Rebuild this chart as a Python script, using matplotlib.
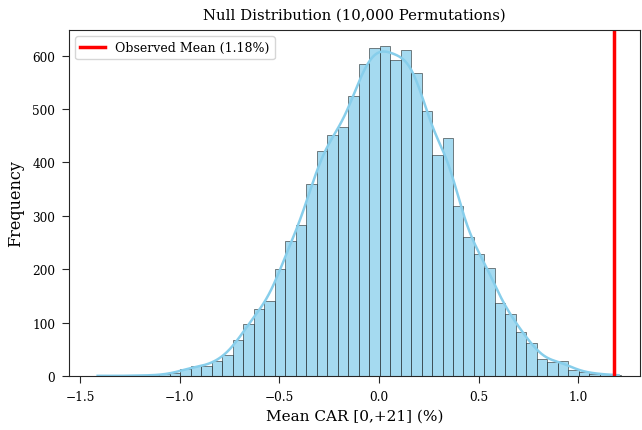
import numpy as np
import matplotlib
matplotlib.use("Agg")
import matplotlib.pyplot as plt

# ---- data (50 bins, counts per bin) ----
bin_lo = -1.4165
bin_hi = 1.2133
counts = [1, 0, 0, 1, 1, 1, 3, 5, 14, 18,
          18, 29, 39, 68, 97, 126, 140, 200, 253, 283,
          360, 421, 452, 466, 525, 584, 615, 618, 592, 610,
          568, 497, 414, 446, 319, 260, 228, 202, 136, 117,
          82, 61, 31, 27, 29, 11, 8, 4, 3, 2]
observed_mean = 1.18
x_ticks = [-1.5, -1.0, -0.5, 0.0, 0.5, 1.0]
y_ticks = [0, 100, 200, 300, 400, 500, 600]

plt.rcParams['font.family'] = ['DejaVu Serif']

counts = np.array(counts, dtype=float)
edges = np.linspace(bin_lo, bin_hi, len(counts) + 1)
centers = (edges[:-1] + edges[1:]) / 2
width = edges[1] - edges[0]

# smooth density from the binned counts (gaussian kernel, scott-like bandwidth)
n = counts.sum()
mu = np.sum(centers * counts) / n
sd = np.sqrt(np.sum(counts * (centers - mu) ** 2) / n)
bw = sd * n ** (-1 / 5)
xs = np.linspace(bin_lo + width * 0.1, bin_hi - width * 0.2, 400)
dens = np.zeros_like(xs)
for c, w in zip(centers, counts):
    dens += w * np.exp(-0.5 * ((xs - c) / bw) ** 2)
dens = dens / (n * bw * np.sqrt(2 * np.pi))
kde_counts = dens * n * width

fig = plt.figure(figsize=(6.42, 4.31), dpi=100)
ax = fig.add_axes([69 / 642, 54 / 431, 571 / 642, 346 / 431])

ax.hist(centers, bins=edges, weights=counts, color='skyblue', alpha=0.75,
        edgecolor='black', linewidth=0.45)
ax.plot(xs, kde_counts, color='skyblue', linewidth=1.8)
ax.axvline(observed_mean, color='red', linewidth=2.5,
           label='Observed Mean ({:.2f}%)'.format(observed_mean))

ax.set_xlim(-1.555, 1.31)
ax.set_ylim(0, 648)
ax.set_xticks(x_ticks)
ax.set_yticks(y_ticks)
ax.tick_params(labelsize=8.7, length=5, pad=5, color='#262626')
for s in ax.spines.values():
    s.set_color('#262626')

ax.set_title('Null Distribution (10,000 Permutations)', fontsize=10.7, pad=8)
ax.set_xlabel('Mean CAR [0,+21] (%)', fontsize=11, labelpad=4)
ax.set_ylabel('Frequency', fontsize=11.5, labelpad=6)
ax.legend(loc='upper left', fontsize=9)

fig.savefig('out.png', dpi=100)
